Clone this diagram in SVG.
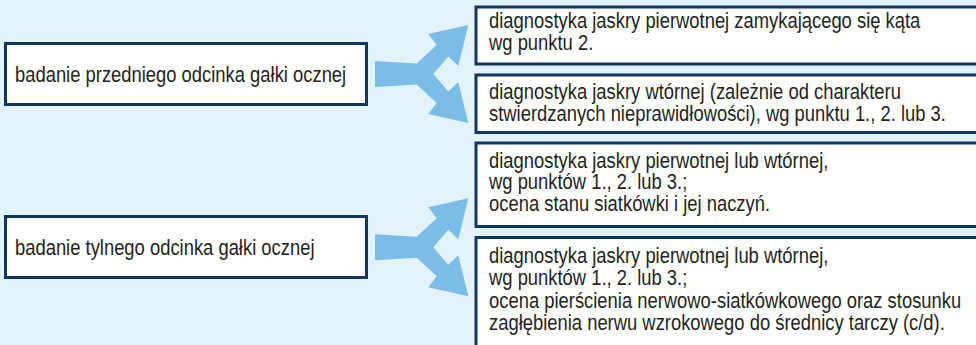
<svg xmlns="http://www.w3.org/2000/svg" width="976" height="345" viewBox="0 0 976 345">
<style>
.bg{fill:#e3f3fb}
.box{fill:#ffffff;stroke:#12355f;stroke-width:3}
.t{font-family:"Liberation Sans",Arial,sans-serif;font-size:21.6px;fill:#231f20}
.arr{fill:#7bbde6}
</style>
<defs>
<polygon id="fork" class="arr" points="375,61 416.7,63.5 436.7,45 428.3,34 468.3,25 458.3,66 448.3,56.5 433.3,74 448.3,91.5 458.3,82 468.3,123 428.3,114 436.7,103 416.7,84.5 375,87"/>
</defs>
<rect class="bg" x="0" y="0" width="976" height="345"/>
<g id="connectors">
<use href="#fork"/>
<use href="#fork" transform="translate(0,173.3)"/>
</g>
<g id="n1">
<rect class="box" x="5.5" y="43.5" width="361" height="61"/>
<text class="t" transform="scale(0.852,1)" x="17.6" y="82">badanie przedniego odcinka gałki ocznej</text>
</g>
<g id="n2">
<rect class="box" x="5.5" y="216.5" width="361" height="61"/>
<text class="t" transform="scale(0.852,1)" x="17.6" y="255">badanie tylnego odcinka gałki ocznej</text>
</g>
<g id="n3">
<rect class="box" x="476" y="7" width="510" height="57"/>
<g transform="scale(0.852,1)">
<text class="t" x="574" y="28">diagnostyka jaskry pierwotnej zamykającego się kąta</text>
<text class="t" x="574" y="50">wg punktu 2.</text>
</g>
</g>
<g id="n4">
<rect class="box" x="476" y="75" width="510" height="57.5"/>
<g transform="scale(0.852,1)">
<text class="t" x="574" y="99">diagnostyka jaskry wtórnej (zależnie od charakteru</text>
<text class="t" x="574" y="121">stwierdzanych nieprawidłowości), wg punktu 1., 2. lub 3.</text>
</g>
</g>
<g id="n5">
<rect class="box" x="476" y="143" width="510" height="83.5"/>
<g transform="scale(0.852,1)">
<text class="t" x="574" y="168">diagnostyka jaskry pierwotnej lub wtórnej,</text>
<text class="t" x="574" y="189.5">wg punktów 1., 2. lub 3.;</text>
<text class="t" x="574" y="211">ocena stanu siatkówki i jej naczyń.</text>
</g>
</g>
<g id="n6">
<rect class="box" x="476" y="237.5" width="510" height="130"/>
<g transform="scale(0.852,1)">
<text class="t" x="574" y="263">diagnostyka jaskry pierwotnej lub wtórnej,</text>
<text class="t" x="574" y="285.5">wg punktów 1., 2. lub 3.;</text>
<text class="t" x="574" y="308">ocena pierścienia nerwowo-siatkówkowego oraz stosunku</text>
<text class="t" x="574" y="330.5">zagłębienia nerwu wzrokowego do średnicy tarczy (c/d).</text>
</g>
</g>
</svg>
